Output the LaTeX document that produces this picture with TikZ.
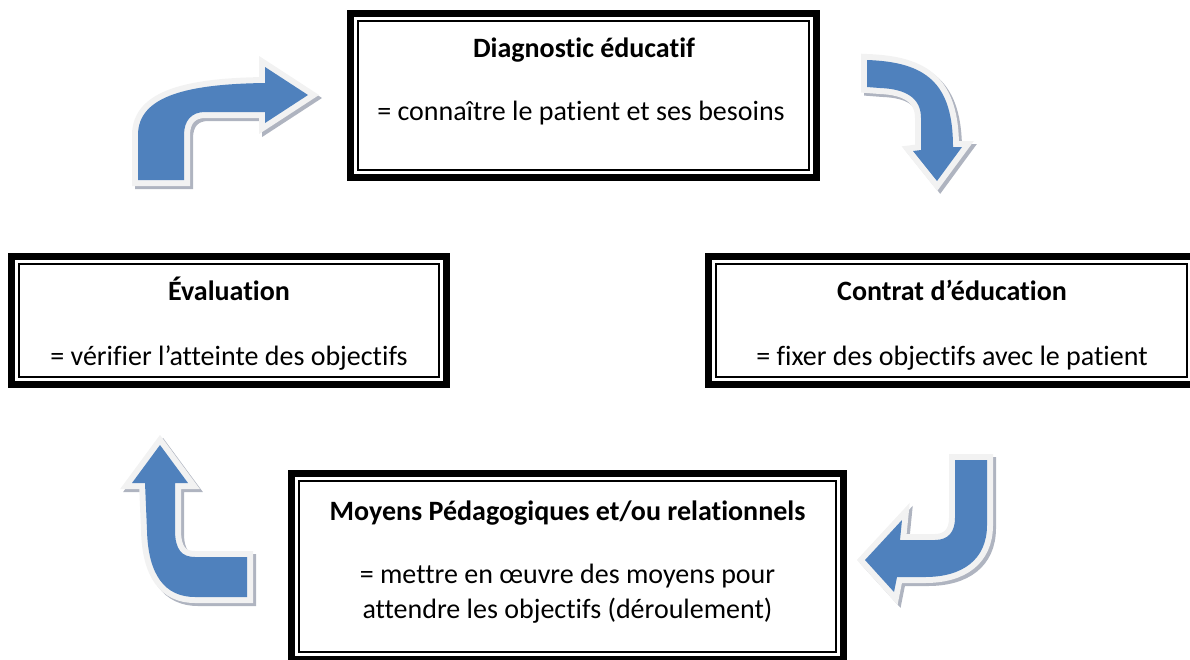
\documentclass[tikz,border=0pt]{standalone}
\usepackage{fontspec}
\setmainfont{Carlito}[Ligatures=NoCommon]
\definecolor{arrowblue}{RGB}{79,129,189}
\definecolor{rimgray}{RGB}{242,242,242}
\definecolor{shadowgray}{RGB}{175,180,192}
\tikzset{
  frame/.style={draw=black, line width=7pt, fill=white, outer sep=0pt, inner sep=0pt},
  innerline/.style={draw=black, line width=1.4pt},
  ttl/.style={font=\fontsize{28}{32}\selectfont\bfseries, anchor=base, inner sep=0pt},
  txt/.style={font=\fontsize{28}{32}\selectfont, anchor=base, inner sep=0pt},
  arrowbody/.style={fill=arrowblue},
  arrowrim/.style={draw=rimgray, line width=12pt, line join=miter, miter limit=10},
  arrowshadow/.style={draw=shadowgray, fill=shadowgray, line width=12pt, line join=miter, miter limit=10},
}
\newcommand\arrowA{(138,180) -- (138,135) .. controls (138,95) and (190,84) .. (265,83) -- (265,67) -- (308,95) -- (265,123) -- (265,112) -- (205,112) .. controls (192,112) and (184,120) .. (184,135) -- (184,180) -- cycle}
\newcommand\arrowB{(867,60) .. controls (925,62) and (953,82) .. (953,147) -- (962,147) -- (937,181) -- (913,151) -- (921,150) -- (921,118) .. controls (921,98) and (906,89) .. (880,88) -- (867,87) -- cycle}
\newcommand\arrowC{(955,460) -- (987,460) -- (987,525) .. controls (987,560) and (962,577) .. (925,577) -- (897,577) -- (894,592) -- (865,560) -- (902,520) -- (900,540) -- (935,540) .. controls (948,540) and (955,532) .. (955,518) -- cycle}
\newcommand\arrowD{(160,445) -- (188,483) -- (175,483) -- (175,530) .. controls (175,550) and (182,557) .. (195,557) -- (247,557) -- (247,597) -- (195,597) .. controls (165,597) and (148,575) .. (147,530) -- (145,483) -- (132,483) -- cycle}
\begin{document}
\begin{tikzpicture}[x=1pt, y=-1pt]
  \useasboundingbox (0,0) rectangle (1190,659);
  % arrows
  \foreach \shape in {\arrowA,\arrowB,\arrowC,\arrowD}{
    \path[arrowshadow, shift={(3,3)}] \shape;
    \path[arrowrim] \shape;
    \path[arrowbody] \shape;
  }
  % boxes
  \node[frame, minimum width=466pt, minimum height=164pt] (diag) at (583.5,95.5) {};
  \node[frame, minimum width=435pt, minimum height=128pt] (eval) at (229,320.5) {};
  \node[frame, minimum width=486pt, minimum height=128pt] (contrat) at (951.5,320.5) {};
  \node[frame, minimum width=552pt, minimum height=186pt] (moyens) at (567.5,566.5) {};
  \foreach \b in {diag,eval,contrat,moyens}{
    \draw[innerline] ([shift={(7.5,7.5)}]\b.north west) rectangle ([shift={(-7.5,-7.5)}]\b.south east);
  }
  % texts
  \node[ttl] (diagT) at (584,57) {Diagnostic éducatif};
  \node[txt] (diagS) at (581,120) {= connaître le patient et ses besoins};
  \node[ttl] (evalT) at (229,300) {Évaluation};
  \node[ttl] (contratT) at (952,300) {Contrat d’éducation};
  \begin{scope}
    \clip ([shift={(8.3,8.3)}]eval.north west) rectangle ([shift={(-8.3,-14)}]eval.south east);
    \node[txt] (evalS) at (229,365) {= vérifier l’atteinte des objectifs};
  \end{scope}
  \begin{scope}
    \clip ([shift={(8.3,8.3)}]contrat.north west) rectangle ([shift={(-8.3,-14)}]contrat.south east);
    \node[txt] (contratS) at (952,365) {= fixer des objectifs avec le patient};
  \end{scope}
  \node[ttl] (moyensT) at (567.5,520) {Moyens Pédagogiques et/ou relationnels};
  \node[txt] (moyensS1) at (567.5,583) {= mettre en œuvre des moyens pour};
  \node[txt] (moyensS2) at (567.5,618) {attendre les objectifs (déroulement)};
\end{tikzpicture}
\end{document}
